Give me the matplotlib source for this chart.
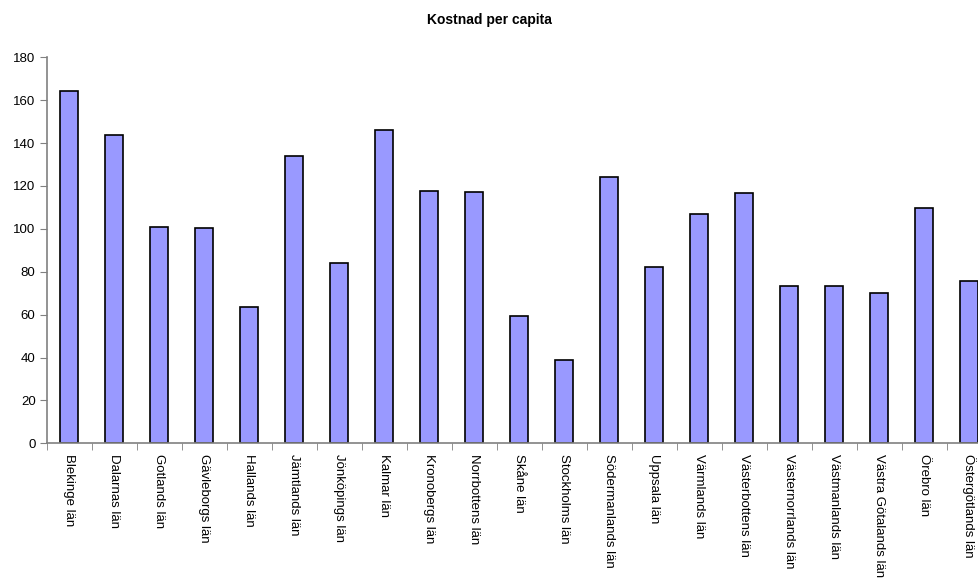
import numpy as np
import matplotlib
matplotlib.use("Agg")
import matplotlib.pyplot as plt

plt.rcParams["font.family"] = ["Liberation Sans", "DejaVu Sans"]

lan = ["Blekinge län", "Dalarnas län", "Gotlands län", "Gävleborgs län",
       "Hallands län", "Jämtlands län", "Jönköpings län", "Kalmar län",
       "Kronobergs län", "Norrbottens län", "Skåne län", "Stockholms län",
       "Södermanlands län", "Uppsala län", "Värmlands län", "Västerbottens län",
       "Västernorrlands län", "Västmanlands län", "Västra Götalands län",
       "Örebro län", "Östergötlands län"]
kostnad = [164.2, 143.9, 101.0, 100.4, 63.4, 134.0, 83.9, 146.0, 117.8, 117.4,
           59.4, 38.9, 124.0, 82.4, 106.8, 116.6, 73.2, 73.2, 70.0, 109.9, 75.9]

fig = plt.figure(figsize=(9.79, 5.84), dpi=100)
ax = fig.add_axes([0.0477, 0.2409, 0.9653, 0.661])

x = np.arange(len(lan))
ax.bar(x, kostnad, width=0.41, color="#9999FF", edgecolor="black", linewidth=1.2)

ax.set_xlim(-0.5, len(lan) - 0.5)
ax.set_ylim(0, 180)
ax.set_yticks(range(0, 181, 20))
ax.set_xticks(x)
ax.set_xticklabels(lan, rotation=270, fontsize=9.5, va="top", ha="center")
ax.set_xticks(np.arange(-0.5, len(lan), 1), minor=True)
ax.tick_params(axis="x", which="major", length=0, pad=8)
ax.tick_params(axis="x", which="minor", length=5, color="#808080", direction="out")
ax.tick_params(axis="y", length=5, color="#808080", labelsize=9.5, pad=3)

for s in ["top", "right"]:
    ax.spines[s].set_visible(False)
for s in ["left", "bottom"]:
    ax.spines[s].set_color("#808080")
    ax.spines[s].set_linewidth(1.2)

fig.text(0.5, 0.965, "Kostnad per capita", ha="center", va="center",
         fontsize=10, fontweight="bold")

fig.savefig("out.png", dpi=100)
